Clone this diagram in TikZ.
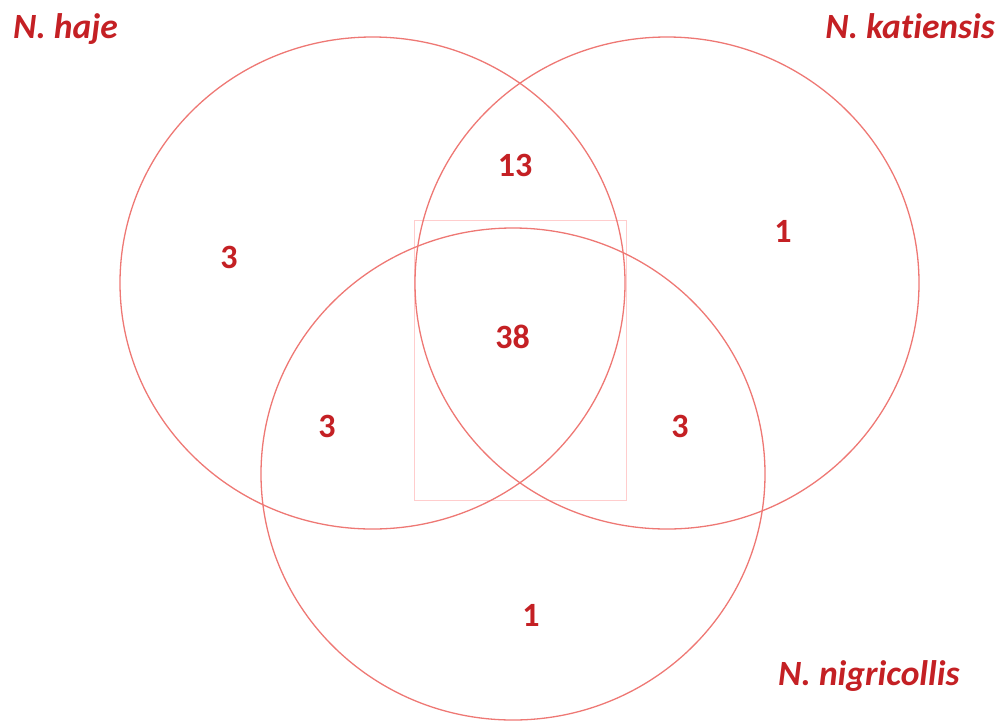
\documentclass[tikz,border=0pt]{standalone}
\usepackage{fontspec}
\setmainfont{Carlito}[Ligatures=NoCommon]
\definecolor{txtred}{RGB}{196,32,36}
\definecolor{ringred}{RGB}{238,120,116}
\definecolor{boxpink}{RGB}{255,205,205}
\tikzset{
  ring/.style={draw=ringred, line width=1.3pt},
  num/.style={text=txtred, font=\fontsize{34}{36}\selectfont\bfseries, anchor=base, inner sep=0pt},
  species/.style={text=txtred, font=\fontsize{35.5}{38}\selectfont\bfseries\itshape, inner sep=0pt}
}
\begin{document}
\begin{tikzpicture}[x=1pt,y=-1pt]
\useasboundingbox (0,0) rectangle (998,721);
\draw[boxpink, line width=1pt] (414,220) rectangle (626,500);
\draw[ring] (372.5,283) ellipse [x radius=252.5, y radius=246];
\draw[ring] (667,283) ellipse [x radius=252, y radius=246];
\draw[ring] (513,474) ellipse [x radius=252, y radius=246];
\node[species, anchor=base west] (haje) at (13,38) {N. haje};
\node[species, anchor=base east] (kat) at (995,38) {N. katiensis};
\node[species, anchor=base west] (nig) at (778,685) {N. nigricollis};
\node[num] (n13) at (515,176) {13};
\node[num] (n1a) at (783,242) {1};
\node[num] (n3a) at (229,268) {3};
\node[num] (n38) at (512.5,348) {38};
\node[num] (n3b) at (327,437) {3};
\node[num] (n3c) at (680,437) {3};
\node[num] (n1b) at (531,626) {1};
\end{tikzpicture}
\end{document}
